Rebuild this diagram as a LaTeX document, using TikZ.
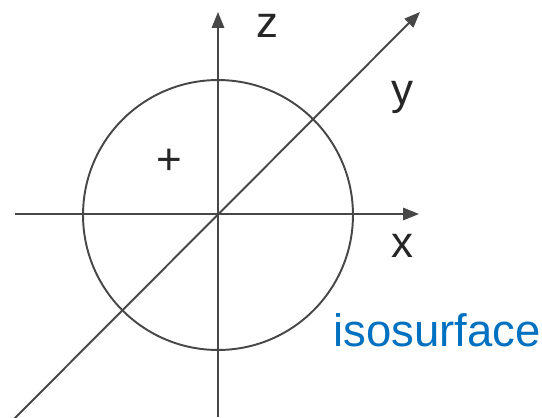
\documentclass[tikz,border=0pt]{standalone}
\usepackage{fontspec}
\setmainfont{Liberation Sans}
\usetikzlibrary{arrows.meta,positioning}
\definecolor{IsoBlue}{RGB}{0,112,192}
\tikzset{
  axisline/.style={draw=black!72, line width=1.1pt,
    -{Triangle[length=9pt, width=7pt]}},
  sphere/.style={circle, draw=black!72, line width=1.1pt,
    minimum size=5.4cm, inner sep=0pt},
  axislabel/.style={font=\fontsize{25}{25}\selectfont, text=black!85, inner sep=0pt},
  isolabel/.style={font=\fontsize{25.9}{26}\selectfont, text=IsoBlue, inner sep=0pt}
}

\begin{document}
\begin{tikzpicture}[x=0.02cm, y=-0.02cm]
  \useasboundingbox (0,0) rectangle (542,417);
  \node[sphere] (ball) at (218,215) {};
  \coordinate (o) at (218,215);
  % axes
  \coordinate (zlow) at (218,417);
  \coordinate (ztop) at (218,12);
  \coordinate (xlow) at (15,214);
  \coordinate (xtop) at (419,214);
  \coordinate (ylow) at (14,419);
  \coordinate (ytop) at (420,12);
  \draw[axisline] (zlow) -- (ztop);
  \draw[axisline] (xlow) -- (xtop);
  \draw[axisline] (ylow) -- (ytop);
  % labels
  \node[axislabel] (zlab) at (267,26) {z};
  \node[axislabel] (ylab) at (402,97) {y};
  \node[axislabel] (xlab) at (402,246) {x};
  \node[axislabel] (plus) at (169,162) {+};
  \node[isolabel, anchor=base west] (iso) at (333,346) {isosurface};
\end{tikzpicture}
\end{document}
